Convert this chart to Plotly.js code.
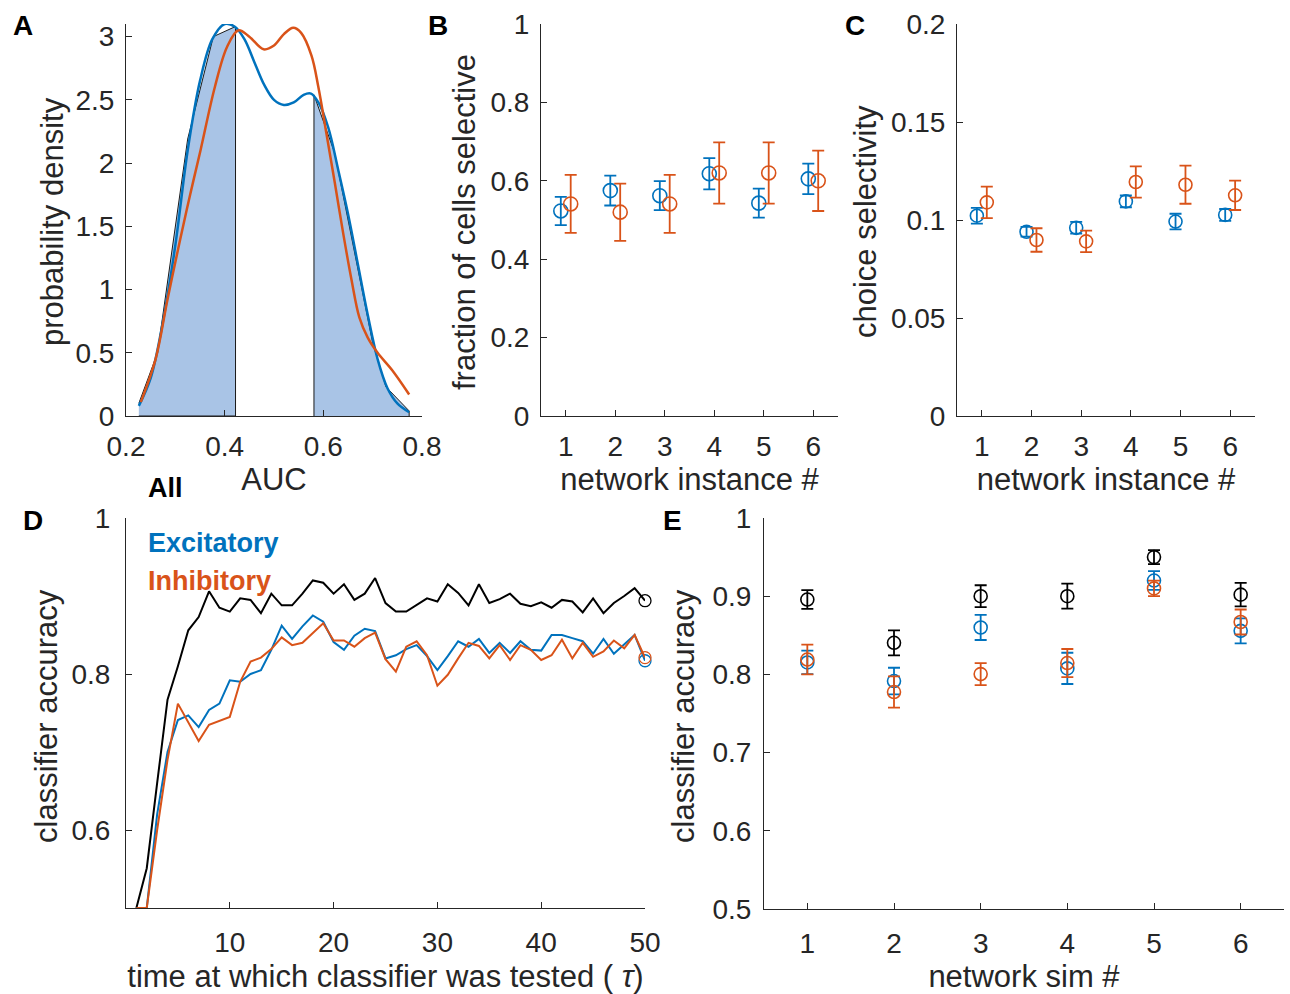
<!DOCTYPE html>
<html>
<head>
<meta charset="utf-8">
<script src="https://cdn.plot.ly/plotly-3.0.1.min.js"></script>
<style>html,body{margin:0;padding:0;background:#fff;}#chart{width:1290px;height:994px;}</style>
</head>
<body>
<div id="chart"></div>
<script>
// ---------- Panel A: AUC distributions ----------
const aucBlueX = [0.226,0.25,0.275,0.3,0.325,0.35,0.375,0.4,0.42,0.44,0.46,0.48,0.5,0.52,0.54,0.56,0.575,0.59,0.61,0.63,0.65,0.67,0.69,0.71,0.73,0.75,0.774];
const aucBlueY = [0.08,0.3,0.75,1.35,2.1,2.65,2.98,3.1,3.08,2.98,2.8,2.62,2.5,2.46,2.48,2.54,2.55,2.48,2.28,1.95,1.6,1.2,0.8,0.45,0.22,0.1,0.03];
const aucOrangeX = [0.23,0.26,0.284,0.31,0.33,0.351,0.38,0.405,0.428,0.45,0.479,0.5,0.52,0.539,0.555,0.576,0.59,0.606,0.623,0.64,0.657,0.673,0.69,0.71,0.74,0.774];
const aucOrangeY = [0.11,0.45,0.92,1.4,1.75,2.1,2.6,2.92,3.05,3.0,2.9,2.93,3.02,3.07,3.03,2.85,2.6,2.24,1.85,1.45,1.08,0.78,0.62,0.5,0.36,0.17];
const aucLeftX = [0.226,0.264,0.325,0.377,0.422];
const aucLeftY = [0.1,0.5,2.19,3.0,3.08];
const aucRightX = [0.581,0.623,0.70,0.727,0.774];
const aucRightY = [2.54,2.08,0.58,0.23,0.04];

// ---------- Panels B, C ----------
const instances = [1,2,3,4,5,6];
const fracExc = [0.523,0.575,0.562,0.618,0.543,0.605];
const fracExcErr = [0.036,0.038,0.037,0.040,0.037,0.039];
const fracInh = [0.541,0.520,0.541,0.620,0.620,0.600];
const fracInhErr = [0.074,0.073,0.074,0.078,0.078,0.077];
const choiceExc = [0.1022,0.0940,0.0960,0.1095,0.0992,0.1026];
const choiceExcErr = [0.0040,0.0025,0.0030,0.0030,0.0040,0.0030];
const choiceInh = [0.1090,0.0898,0.0891,0.1194,0.1180,0.1126];
const choiceInhErr = [0.0080,0.0060,0.0055,0.0080,0.0097,0.0075];

// ---------- Panel D ----------
const tau = [1,2,3,4,5,6,7,8,9,10,11,12,13,14,15,16,17,18,19,20,21,22,23,24,25,26,27,28,29,30,31,32,33,34,35,36,37,38,39,40,41,42,43,44,45,46,47,48,49,50];
const accAll = [0.5,0.551,0.66,0.767,0.81,0.856,0.873,0.906,0.885,0.880,0.897,0.895,0.878,0.903,0.888,0.888,0.903,0.92,0.917,0.903,0.915,0.895,0.903,0.923,0.891,0.880,0.880,0.888,0.897,0.893,0.915,0.904,0.888,0.915,0.891,0.896,0.903,0.89,0.887,0.892,0.885,0.895,0.893,0.879,0.897,0.878,0.891,0.9,0.91,0.894];
const accExc = [0.5,0.5,0.62,0.70,0.741,0.747,0.732,0.754,0.762,0.792,0.79,0.8,0.805,0.831,0.862,0.845,0.861,0.875,0.867,0.841,0.831,0.849,0.858,0.855,0.82,0.824,0.832,0.837,0.823,0.805,0.823,0.842,0.835,0.845,0.827,0.84,0.827,0.842,0.831,0.83,0.85,0.85,0.846,0.842,0.826,0.845,0.826,0.838,0.85,0.817];
const accInh = [0.5,0.5,0.6,0.69,0.762,0.737,0.714,0.735,0.74,0.745,0.79,0.816,0.821,0.832,0.847,0.837,0.84,0.852,0.865,0.843,0.843,0.835,0.846,0.853,0.819,0.803,0.835,0.842,0.824,0.785,0.799,0.82,0.840,0.836,0.82,0.837,0.818,0.837,0.831,0.818,0.824,0.844,0.82,0.84,0.822,0.829,0.843,0.833,0.85,0.821];

// ---------- Panel E ----------
const sims = [1,2,3,4,5,6];
const simAll = [0.8957,0.8404,0.900,0.900,0.950,0.902];
const simAllErr = [0.012,0.016,0.014,0.016,0.009,0.015];
const simExc = [0.8153,0.7915,0.860,0.8077,0.920,0.8557];
const simExcErr = [0.015,0.017,0.016,0.020,0.012,0.016];
const simInh = [0.819,0.7774,0.8004,0.8145,0.910,0.867];
const simInhErr = [0.019,0.020,0.014,0.018,0.010,0.016];

const BLUE = '#0072BD', ORANGE = '#D95319', BLACK = '#000000', FILL = '#a9c4e6', AX = '#262626';
const FONT = 'Liberation Sans, Arial, Helvetica, sans-serif';
const W = 1290, H = 994;
const dx = (a,b) => [a/W, b/W];
const dy = (top,bottom) => [1-bottom/H, 1-top/H];

const traces = [];
// Panel A
traces.push({x: aucLeftX.concat([aucLeftX[aucLeftX.length-1], aucLeftX[0]]), y: aucLeftY.concat([0,0]),
  fill:'toself', fillcolor:FILL, mode:'lines', line:{color:'#1a1a1a', width:1}, xaxis:'x', yaxis:'y', showlegend:false});
traces.push({x: [aucRightX[0]].concat(aucRightX, [aucRightX[aucRightX.length-1]]), y: [0].concat(aucRightY,[0]),
  fill:'toself', fillcolor:FILL, mode:'lines', line:{color:'#1a1a1a', width:1}, xaxis:'x', yaxis:'y', showlegend:false});
traces.push({x: aucBlueX, y: aucBlueY, mode:'lines', line:{color:BLUE, width:2.5, shape:'spline'}, xaxis:'x', yaxis:'y', showlegend:false});
traces.push({x: aucOrangeX, y: aucOrangeY, mode:'lines', line:{color:ORANGE, width:2.5, shape:'spline'}, xaxis:'x', yaxis:'y', showlegend:false});

function errTrace(xs, ys, es, color, xa, ya, size, capw){
  return {x: xs, y: ys, mode:'markers', xaxis:xa, yaxis:ya, showlegend:false,
    marker:{symbol:'circle-open', size:size, color:color, line:{width:1.6, color:color}},
    error_y:{type:'data', array:es, visible:true, color:color, thickness:1.8, width:capw}};
}
// Panel B
traces.push(errTrace(instances.map(v=>v-0.1), fracExc, fracExcErr, BLUE, 'x2','y2', 14, 6));
traces.push(errTrace(instances.map(v=>v+0.1), fracInh, fracInhErr, ORANGE, 'x2','y2', 14, 6));
// Panel C
traces.push(errTrace(instances.map(v=>v-0.1), choiceExc, choiceExcErr, BLUE, 'x3','y3', 13, 6));
traces.push(errTrace(instances.map(v=>v+0.1), choiceInh, choiceInhErr, ORANGE, 'x3','y3', 13, 6));
// Panel D
[[accAll,BLACK],[accExc,BLUE],[accInh,ORANGE]].forEach(([arr,c])=>{
  traces.push({x: tau, y: arr, mode:'lines', line:{color:c, width:2}, xaxis:'x4', yaxis:'y4', showlegend:false});
  traces.push({x: [tau[tau.length-1]], y:[arr[arr.length-1]], mode:'markers', xaxis:'x4', yaxis:'y4', showlegend:false,
    cliponaxis:false, marker:{symbol:'circle-open', size:12, color:c, line:{width:1.3, color:c}}});
});
// Panel E
traces.push(errTrace(sims, simAll, simAllErr, BLACK, 'x5','y5', 13, 6));
traces.push(errTrace(sims, simExc, simExcErr, BLUE, 'x5','y5', 13, 6));
traces.push(errTrace(sims, simInh, simInhErr, ORANGE, 'x5','y5', 13, 6));

function xax(domain, range, tickvals, ticktext, title, lso, tso){
  return {domain: domain, range: range, tickvals: tickvals, ticktext: ticktext, ticks:'inside', ticklen:6, tickwidth:1,
    tickcolor:AX, showline:true, linecolor:AX, linewidth:1, zeroline:false, showgrid:false, fixedrange:true,
    tickfont:{family:FONT, size:28, color:AX}, ticklabelstandoff:lso,
    title:{text:title, font:{family:FONT, size:31, color:AX}, standoff:tso}};
}
function yax(domain, range, tickvals, ticktext, lso){
  return {domain: domain, range: range, tickvals: tickvals, ticktext: ticktext, ticks:'inside', ticklen:6, tickwidth:1,
    tickcolor:AX, showline:true, linecolor:AX, linewidth:1, zeroline:false, showgrid:false, fixedrange:true,
    tickfont:{family:FONT, size:28, color:AX}, ticklabelstandoff:lso};
}

const layout = {
  width: W, height: H, margin:{l:0,r:0,t:0,b:0}, paper_bgcolor:'#fff', plot_bgcolor:'rgba(0,0,0,0)',
  showlegend:false, font:{family:FONT, color:AX},
  xaxis:  Object.assign(xax(dx(126,422), [0.2,0.8], [0.2,0.4,0.6,0.8], ['0.2','0.4','0.6','0.8'], 'AUC', 5, 4), {anchor:'y'}),
  yaxis:  Object.assign(yax(dy(24,416), [0,3.1], [0,0.5,1,1.5,2,2.5,3], ['0','0.5','1','1.5','2','2.5','3'], 5), {anchor:'x'}),
  xaxis2: Object.assign(xax(dx(541,838), [0.5,6.5], [1,2,3,4,5,6], ['1','2','3','4','5','6'], 'network instance #', 5, 4), {anchor:'y2'}),
  yaxis2: Object.assign(yax(dy(24,416), [0,1], [0,0.2,0.4,0.6,0.8,1], ['0','0.2','0.4','0.6','0.8','1'], 5), {anchor:'x2'}),
  xaxis3: Object.assign(xax(dx(957,1255), [0.5,6.5], [1,2,3,4,5,6], ['1','2','3','4','5','6'], 'network instance #', 5, 4), {anchor:'y3'}),
  yaxis3: Object.assign(yax(dy(24,416), [0,0.2], [0,0.05,0.1,0.15,0.2], ['0','0.05','0.1','0.15','0.2'], 5), {anchor:'x3'}),
  xaxis4: Object.assign(xax(dx(126,645), [0,50], [10,20,30,40,50], ['10','20','30','40','50'], 'time at which classifier was tested ( <i>τ</i>)', 9, 8), {anchor:'y4'}),
  yaxis4: Object.assign(yax(dy(518,908), [0.5,1], [0.6,0.8,1], ['0.6','0.8','1'], 9), {anchor:'x4'}),
  xaxis5: Object.assign(xax(dx(764,1284), [0.5,6.5], [1,2,3,4,5,6], ['1','2','3','4','5','6'], 'network sim #', 9, 8), {anchor:'y5'}),
  yaxis5: Object.assign(yax(dy(518,909), [0.5,1], [0.5,0.6,0.7,0.8,0.9,1], ['0.5','0.6','0.7','0.8','0.9','1'], 6), {anchor:'x5'}),
  annotations: []
};
function lab(text, px, py, opts){
  return Object.assign({text:text, x:px/W, y:1-py/H, xref:'paper', yref:'paper', showarrow:false,
    xanchor:'center', yanchor:'middle', font:{family:FONT, size:28, color:'#000'}}, opts||{});
}
layout.annotations.push(lab('<b>A</b>', 23, 25));
layout.annotations.push(lab('<b>B</b>', 438, 25));
layout.annotations.push(lab('<b>C</b>', 855, 25));
layout.annotations.push(lab('<b>D</b>', 33, 520));
layout.annotations.push(lab('<b>E</b>', 672, 520));
layout.annotations.push(lab('<b>All</b>', 146, 488, {xanchor:'left', font:{family:FONT, size:27, color:BLACK}}));
layout.annotations.push(lab('<b>Excitatory</b>', 146, 543, {xanchor:'left', font:{family:FONT, size:27, color:BLUE}}));
layout.annotations.push(lab('<b>Inhibitory</b>', 146, 581, {xanchor:'left', font:{family:FONT, size:27, color:ORANGE}}));
// y-axis titles
const yTitleFont = {family:FONT, size:31, color:AX};
layout.annotations.push(lab('probability density', 52, 222, {textangle:-90, font:yTitleFont}));
layout.annotations.push(lab('fraction of cells selective', 464, 222, {textangle:-90, font:yTitleFont}));
layout.annotations.push(lab('choice selectivity', 865, 222, {textangle:-90, font:yTitleFont}));
layout.annotations.push(lab('classifier accuracy', 46, 716, {textangle:-90, font:yTitleFont}));
layout.annotations.push(lab('classifier accuracy', 683, 716, {textangle:-90, font:yTitleFont}));

Plotly.newPlot('chart', traces, layout, {staticPlot:true, displayModeBar:false});
</script>
</body>
</html>
